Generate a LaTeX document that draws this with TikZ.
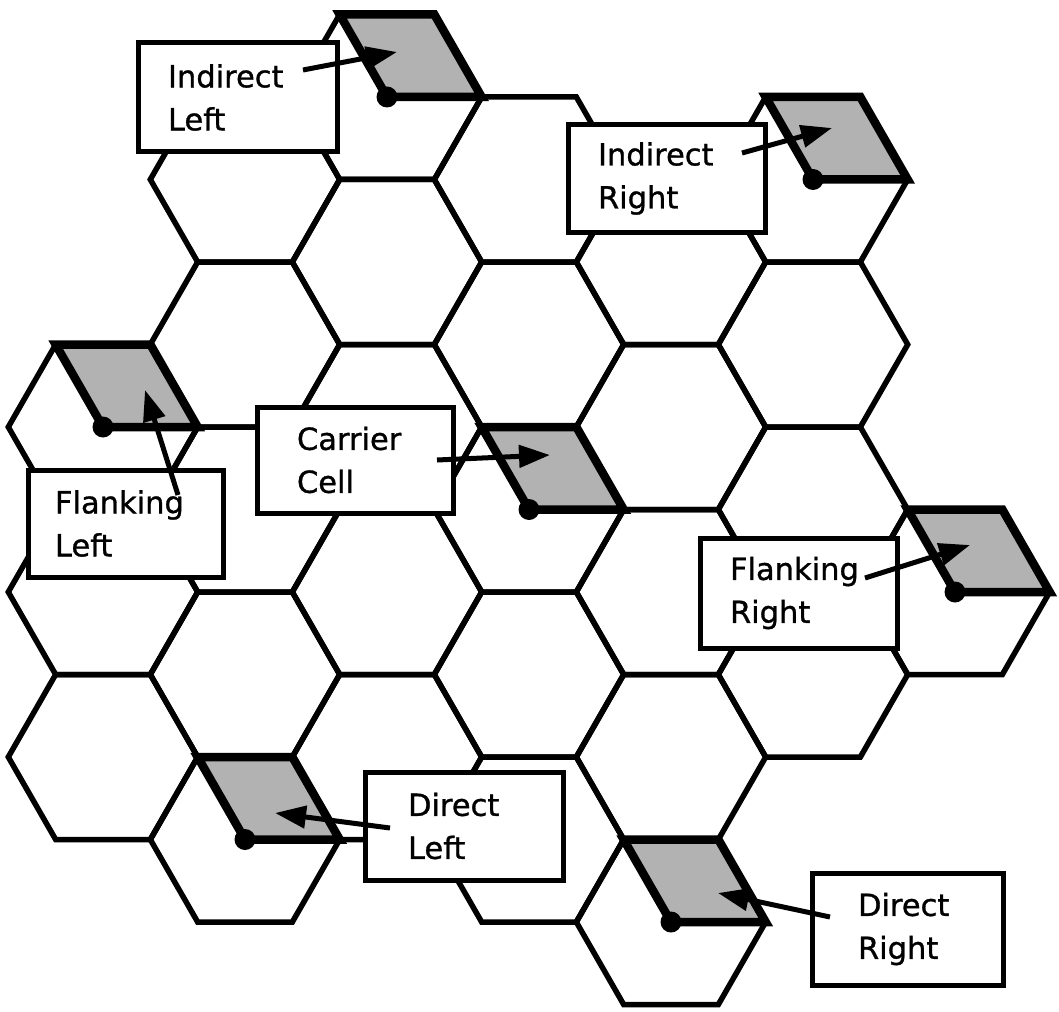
\documentclass[tikz,border=0pt]{standalone}
\usepackage{fontspec}
\setmainfont{DejaVu Sans}
\newfontfamily\labelfont{DejaVu Sans}[FakeBold=1]
\usetikzlibrary{arrows.meta}
\definecolor{stipple}{gray}{0.70}
\begin{document}
\begin{tikzpicture}[x=1pt,y=-1pt,
  hexline/.style={line width=5.5pt, line join=miter},
  rhomb/.style={fill=stipple, draw=black, line width=8.5pt, line join=miter},
  lbox/.style={draw=black, fill=white, line width=5pt, inner sep=0pt, align=left,
               font=\labelfont\fontsize{30.5}{43}\selectfont},
  arr/.style={line width=5pt, -{Triangle[length=31pt,width=22pt]}},
  dotc/.style={circle, fill=black, inner sep=0pt, minimum size=21pt}]
\useasboundingbox (0,0) rectangle (1059,1011);
\def\hw{94.7}
\def\hh{82.5}
% hexagonal grid
\foreach \c/\r in {0/4,0/6,0/8,
                   1/1,1/3,1/5,1/7,1/9,
                   2/0,2/2,2/4,2/6,2/8,
                   3/1,3/3,3/5,3/7,3/9,
                   4/2,4/4,4/6,4/8,4/10,
                   5/1,5/3,5/5,5/7,
                   6/6}{
  \pgfmathsetmacro\cx{103+142*\c}
  \pgfmathsetmacro\cy{97+82.5*\r}
  \draw[hexline] ({\cx-\hw},{\cy}) -- ({\cx-\hw/2},{\cy-\hh}) -- ({\cx+\hw/2},{\cy-\hh})
     -- ({\cx+\hw},{\cy}) -- ({\cx+\hw/2},{\cy+\hh}) -- ({\cx-\hw/2},{\cy+\hh}) -- cycle;
}
% shaded sectors and cell sites
\foreach \c/\r/\n in {2/0/il, 5/1/ir, 3/5/cc, 0/4/fl, 6/6/fr, 1/9/dl, 4/10/dr}{
  \pgfmathsetmacro\cx{103+142*\c}
  \pgfmathsetmacro\cy{97+82.5*\r}
  \draw[rhomb] ({\cx},{\cy}) -- ({\cx-\hw/2},{\cy-\hh}) -- ({\cx+\hw/2},{\cy-\hh})
     -- ({\cx+\hw},{\cy}) -- cycle;
  \node[dotc] (\n-site) at ({\cx},{\cy}) {};
}
% label boxes
\node[lbox, minimum width=199pt, minimum height=109pt, text width=139pt] (il) at (237.5,97.5) {Indirect\\Left};
\node[lbox, minimum width=197pt, minimum height=107pt, text width=137pt] (ir) at (666.5,178.5) {Indirect\\Right};
\node[lbox, minimum width=196pt, minimum height=106pt, text width=116pt] (cc) at (355,460) {Carrier\\Cell};
\node[lbox, minimum width=195pt, minimum height=107pt, text width=141pt] (fl) at (125.5,523.5) {Flanking\\Left};
\node[lbox, minimum width=197pt, minimum height=110pt, text width=137pt] (fr) at (798.5,593) {Flanking\\Right};
\node[lbox, minimum width=198pt, minimum height=108pt, text width=112pt] (dl) at (464,826) {Direct\\Left};
\node[lbox, minimum width=191pt, minimum height=112pt, text width=99pt] (dr) at (907.5,929) {Direct\\Right};
% arrow ends
\coordinate (il-s) at (303,70);  \coordinate (il-t) at (397,52);
\coordinate (ir-s) at (742,153); \coordinate (ir-t) at (832,128);
\coordinate (cc-s) at (437,460); \coordinate (cc-t) at (550,455);
\coordinate (fl-s) at (178,495); \coordinate (fl-t) at (145,390);
\coordinate (fr-s) at (865,578); \coordinate (fr-t) at (970,545);
\coordinate (dl-s) at (390,828); \coordinate (dl-t) at (275,813);
\coordinate (dr-s) at (830,917); \coordinate (dr-t) at (718,893);
\foreach \n in {il,ir,cc,fl,fr,dl,dr}{
  \draw[arr] (\n-s) -- (\n-t);
}
\end{tikzpicture}
\end{document}
